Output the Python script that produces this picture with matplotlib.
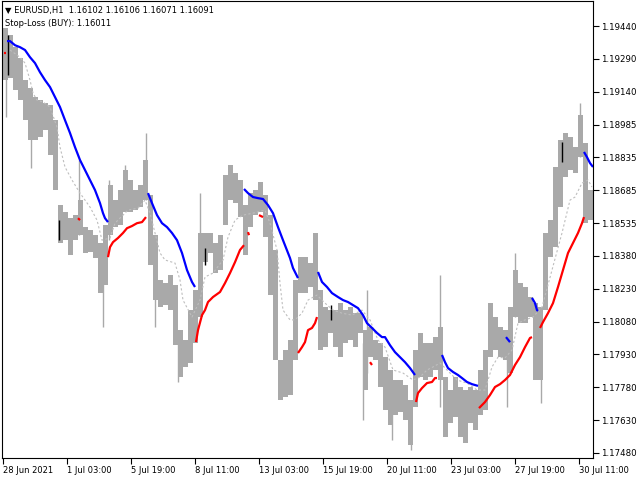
import matplotlib
matplotlib.use("Agg")
import matplotlib.pyplot as plt
import numpy as np

# ---------------- data ----------------
# price envelope in 5-bar blocks (H1 bars, bar 0 = 28 Jun 2021 11:00)
block_high = [1.19431, 1.19398, 1.19343, 1.19293, 1.19192, 1.19155, 1.19114, 1.19100, 1.19086, 1.19077,
              1.19008, 1.18618, 1.18586, 1.18558, 1.18572, 1.18641, 1.18517, 1.18503, 1.18480, 1.18444,
              1.18526, 1.18710, 1.18641, 1.18687, 1.18779, 1.18733, 1.18687, 1.18710, 1.18825, 1.18664,
              1.18480, 1.18274, 1.18260, 1.18297, 1.18251, 1.18044, 1.17998, 1.18136, 1.18228, 1.18490,
              1.18490, 1.18490, 1.18444, 1.18480, 1.18756, 1.18802, 1.18765, 1.18733, 1.18618, 1.18673,
              1.18687, 1.18724, 1.18664, 1.18572, 1.18412, 1.17907, 1.17953, 1.17998, 1.18274, 1.18379,
              1.18379, 1.18352, 1.18490, 1.18228, 1.18150, 1.18136, 1.18136, 1.18168, 1.18136, 1.18150,
              1.18122, 1.18122, 1.18044, 1.18058, 1.17998, 1.17985, 1.17920, 1.17861, 1.17815, 1.17815,
              1.17792, 1.17723, 1.17953, 1.18031, 1.17985, 1.17985, 1.18012, 1.18058, 1.17829, 1.17769,
              1.17829, 1.17783, 1.17769, 1.17783, 1.17769, 1.17861, 1.17953, 1.18168, 1.18104, 1.18058,
              1.18044, 1.18150, 1.18320, 1.18260, 1.18242, 1.18196, 1.18168, 1.18150, 1.18490, 1.18549,
              1.18793, 1.18916, 1.18949, 1.18930, 1.18884, 1.19031, 1.18903, 1.18687]
block_low = [1.19192, 1.19201, 1.19146, 1.19100, 1.19008, 1.18916, 1.18916, 1.18930, 1.18962, 1.18848,
             1.18687, 1.18444, 1.18457, 1.18389, 1.18457, 1.18480, 1.18398, 1.18402, 1.18375, 1.18214,
             1.18251, 1.18480, 1.18517, 1.18526, 1.18586, 1.18586, 1.18595, 1.18609, 1.18641, 1.18343,
             1.18182, 1.18150, 1.18159, 1.18136, 1.17975, 1.17829, 1.17875, 1.17893, 1.17985, 1.18104,
             1.18356, 1.18398, 1.18306, 1.18320, 1.18526, 1.18641, 1.18627, 1.18563, 1.18389, 1.18517,
             1.18572, 1.18586, 1.18471, 1.18205, 1.17907, 1.17723, 1.17737, 1.17746, 1.17907, 1.18214,
             1.18214, 1.18242, 1.18182, 1.17953, 1.17966, 1.18031, 1.17966, 1.17920, 1.17985, 1.17998,
             1.17966, 1.18031, 1.17769, 1.17920, 1.17907, 1.17783, 1.17677, 1.17608, 1.17654, 1.17668,
             1.17631, 1.17516, 1.17691, 1.17829, 1.17815, 1.17829, 1.17861, 1.17815, 1.17553, 1.17617,
             1.17645, 1.17553, 1.17526, 1.17617, 1.17585, 1.17654, 1.17677, 1.17920, 1.17953, 1.17920,
             1.17907, 1.17847, 1.18104, 1.18076, 1.18076, 1.18104, 1.17815, 1.17815, 1.18136, 1.18379,
             1.18425, 1.18609, 1.18747, 1.18779, 1.18765, 1.18838, 1.18535, 1.18549]
BLOCK = 5

# single-bar spikes: bar index, high, low
spike_bar = [3, 28, 76, 100, 106, 122, 143, 152, 175, 197, 360, 364, 389, 408, 437, 504, 512, 538, 577]
spike_high = [1.19421, 1.19146, 1.18825, 1.18398, 1.18733, 1.18802, 1.18949, 1.18274, 1.18044, 1.18673,
              1.17985, 1.18228, 1.17801, 1.17691, 1.18297, 1.17998, 1.18398, 1.18150, 1.19086]
spike_low = [1.19022, 1.18788, 1.18480, 1.18058, 1.18457, 1.18595, 1.18641, 1.18058, 1.17806, 1.18182,
             1.17631, 1.17847, 1.17539, 1.17494, 1.17691, 1.17691, 1.18104, 1.17709, 1.18838]

# black (current-direction) bars
dark_bar = [5, 56, 202, 328, 559]
dark_high = [1.19398, 1.18549, 1.18421, 1.18159, 1.18907]
dark_low = [1.19215, 1.18457, 1.18343, 1.18090, 1.18815]

# dashed middle line
mid_bar = [7, 17, 22, 27, 30, 34, 40, 47, 54, 57, 62, 69, 77, 87, 94, 99, 107, 112, 125, 135, 142, 147,
           152, 157, 162, 172, 177, 180, 189, 197, 202, 210, 220, 225, 232, 240, 250, 262, 267, 274, 277,
           280, 287, 292, 299, 305, 314, 322, 330, 339, 349, 359, 367, 375, 382, 390, 400, 410, 417, 424,
           430, 437, 444, 454, 464, 474, 482, 489, 495, 502, 509, 515, 522, 530, 539, 549, 559, 567, 572,
           579, 585, 589]
mid_val = [1.19330, 1.19297, 1.19270, 1.19192, 1.19132, 1.19100, 1.19091, 1.19068, 1.18976, 1.18884,
           1.18793, 1.18733, 1.18673, 1.18609, 1.18549, 1.18457, 1.18467, 1.18535, 1.18595, 1.18604,
           1.18641, 1.18581, 1.18490, 1.18398, 1.18366, 1.18352, 1.18274, 1.18182, 1.18104, 1.18182,
           1.18288, 1.18306, 1.18366, 1.18471, 1.18549, 1.18572, 1.18581, 1.18595, 1.18535, 1.18412,
           1.18260, 1.18136, 1.18091, 1.18091, 1.18122, 1.18182, 1.18205, 1.18168, 1.18136, 1.18122,
           1.18113, 1.18136, 1.18091, 1.17998, 1.17966, 1.17861, 1.17847, 1.17815, 1.17829, 1.17861,
           1.17875, 1.17893, 1.17861, 1.17815, 1.17801, 1.17769, 1.17769, 1.17875, 1.17920, 1.17916,
           1.17953, 1.18076, 1.18091, 1.18104, 1.18150, 1.18320, 1.18490, 1.18641, 1.18655, 1.18719,
           1.18733, 1.18701]

# stop-loss SELL (blue) segments: (bars, values)
sell_segments = [
    ([4, 7, 12, 17, 22, 27, 32, 37, 42, 47, 52, 57, 62, 67, 72, 77, 82, 87, 92, 97, 100, 102, 105],
     [1.19371, 1.19371, 1.19352, 1.19343, 1.19330, 1.19297, 1.19270, 1.19228, 1.19192, 1.19160, 1.19114,
      1.19068, 1.19008, 1.18949, 1.18884, 1.18825, 1.18779, 1.18733, 1.18687, 1.18627, 1.18581, 1.18558,
      1.18540]),
    ([145, 149, 154, 159, 164, 169, 174, 179, 184, 189, 192],
     [1.18673, 1.18627, 1.18572, 1.18535, 1.18517, 1.18490, 1.18457, 1.18398, 1.18320, 1.18265, 1.18242]),
    ([241, 245, 250, 255, 260, 265, 270, 275, 280, 287, 290, 295],
     [1.18692, 1.18673, 1.18655, 1.18650, 1.18646, 1.18618, 1.18581, 1.18517, 1.18457, 1.18375, 1.18329,
      1.18283]),
    ([315, 319, 324, 329, 335, 340, 345, 350, 355, 360, 364, 369, 374, 379, 382, 387, 392, 397, 402, 407,
      412],
     [1.18311, 1.18265, 1.18242, 1.18214, 1.18196, 1.18182, 1.18173, 1.18159, 1.18145, 1.18113, 1.18076,
      1.18054, 1.18031, 1.18012, 1.18012, 1.17975, 1.17943, 1.17920, 1.17897, 1.17870, 1.17838]),
    ([439, 442, 445, 450, 455, 459, 464, 469, 475],
     [1.17930, 1.17897, 1.17870, 1.17852, 1.17838, 1.17824, 1.17806, 1.17796, 1.17788]),
    ([503, 507], [1.18012, 1.17989]),
    ([529, 532, 534, 535], [1.18192, 1.18168, 1.18136, 1.18132]),
    ([581, 584, 587, 590], [1.18862, 1.18838, 1.18811, 1.18793]),
]

# stop-loss BUY (red) segments
buy_segments = [
    ([1, 3], [1.19316, 1.19316]),
    ([75, 77], [1.18558, 1.18549]),
    ([105, 107, 110, 115, 120, 124, 129, 134, 139, 143],
     [1.18379, 1.18425, 1.18448, 1.18467, 1.18490, 1.18512, 1.18522, 1.18535, 1.18540, 1.18563]),
    ([193, 195, 199, 202, 205, 210, 217, 222, 227, 232, 237, 241],
     [1.17989, 1.18044, 1.18113, 1.18136, 1.18173, 1.18196, 1.18219, 1.18260, 1.18306, 1.18356, 1.18412,
      1.18434]),
    ([245, 246], [1.18494, 1.18480]),
    ([256, 260], [1.18572, 1.18563]),
    ([295, 299, 302, 305, 309, 312, 314],
     [1.17939, 1.17966, 1.17989, 1.18044, 1.18054, 1.18076, 1.18104]),
    ([367, 369], [1.17897, 1.17884]),
    ([413, 415, 419, 424, 429, 432, 434],
     [1.17714, 1.17755, 1.17778, 1.17801, 1.17806, 1.17824, 1.17824]),
    ([476, 482, 487, 492, 497, 502, 507, 512, 517, 522, 527, 529],
     [1.17686, 1.17714, 1.17746, 1.17783, 1.17796, 1.17815, 1.17838, 1.17884, 1.17920, 1.17966, 1.18008,
      1.18012]),
    ([537, 540, 545, 550, 555, 560, 565, 570, 575, 579, 581],
     [1.18054, 1.18081, 1.18122, 1.18168, 1.18242, 1.18320, 1.18398, 1.18444, 1.18490, 1.18535, 1.18563]),
]

x_tick_bars = [0, 64, 128, 192, 256, 320, 384, 448, 512, 576]
x_tick_labels = ["28 Jun 2021", "1 Jul 03:00", "5 Jul 19:00", "8 Jul 11:00", "13 Jul 03:00",
                 "15 Jul 19:00", "20 Jul 11:00", "23 Jul 03:00", "27 Jul 19:00", "30 Jul 11:00"]
y_tick_labels = ["1.19440", "1.19290", "1.19140", "1.18985", "1.18835", "1.18685", "1.18535",
                 "1.18380", "1.18230", "1.18080", "1.17930", "1.17780", "1.17630", "1.17480"]
y_top, y_bottom = 1.19440, 1.17480

header = "\u25BC EURUSD,H1  1.16102 1.16106 1.16071 1.16091"
subheader = "Stop-Loss (BUY): 1.16011"

# ---------------- plot ----------------
W, H = 640, 480
fig = plt.figure(figsize=(W / 100, H / 100), dpi=100)
ax = fig.add_axes([2 / W, 22 / H, 591 / W, 457 / H])
ax.set_facecolor("white")

gray = "#a9a9a9"
starts = np.arange(len(block_high)) * BLOCK
bh = np.array(block_high)
bl = np.array(block_low)
ax.bar(starts, bh - bl, bottom=bl, width=BLOCK, align="edge", color=gray, linewidth=0, zorder=2)
ax.vlines(spike_bar, spike_low, spike_high, color=gray, linewidth=1.0, zorder=2)
ax.vlines(dark_bar, dark_low, dark_high, color="black", linewidth=1.0, zorder=3)

ax.plot(mid_bar, mid_val, color="#bebebe", linewidth=0.8, linestyle=(0, (2, 2)), zorder=3)

for xs, ys in sell_segments:
    ax.plot(xs, ys, color="#0000ff", linewidth=1.6, solid_capstyle="butt", zorder=4)
for xs, ys in buy_segments:
    ax.plot(xs, ys, color="#ff0000", linewidth=1.6, solid_capstyle="butt", zorder=4)

ax.set_xlim(-1, 590)
ax.set_ylim(1.17457, 1.19555)

ax.set_xticks(x_tick_bars)
ax.set_xticklabels(x_tick_labels, fontsize=6.0, ha="left")
yt = np.linspace(y_top, y_bottom, len(y_tick_labels))
ax.yaxis.tick_right()
ax.set_yticks(yt)
ax.set_yticklabels(y_tick_labels, fontsize=6.2)
ax.tick_params(axis="x", direction="out", length=4, width=0.8, pad=1.5, colors="black")
ax.tick_params(axis="y", direction="out", length=4, width=0.8, pad=2, colors="black")
for lab in ax.get_xticklabels():
    lab.set_horizontalalignment("left")

for s in ax.spines.values():
    s.set_color("black")
    s.set_linewidth(0.8)

fig.text(5 / W, 1 - 10 / H, header, fontsize=6.0, va="center", ha="left", color="black")
fig.text(5 / W, 1 - 23 / H, subheader, fontsize=6.0, va="center", ha="left", color="black")

fig.savefig("out.png", dpi=100, facecolor="white")
